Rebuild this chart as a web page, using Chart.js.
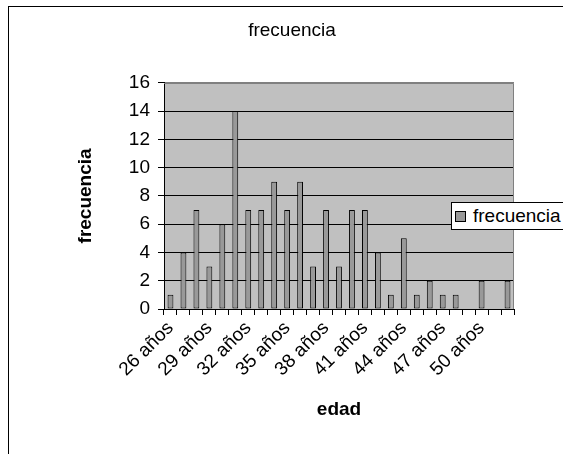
<!DOCTYPE html>
<html>
<head>
<meta charset="utf-8">
<script src="https://cdn.jsdelivr.net/npm/chart.js@4/dist/chart.umd.min.js"></script>
<style>
  html, body { margin: 0; padding: 0; background: #fff; overflow: hidden; width: 563px; height: 454px; }
  #wrap { position: relative; width: 563px; height: 454px; overflow: hidden; }
  #frame { position: absolute; left: 8px; top: 6px; width: 700px; height: 600px; border-left: 1px solid #000; border-top: 1px solid #000; box-sizing: border-box; }
  canvas { position: absolute; left: 0; top: 0; }
  #legend { position: absolute; left: 451px; top: 202px; width: 130px; height: 28px; box-sizing: border-box; border: 1px solid #000; background: #fff;
            font-family: "Liberation Sans", Arial, sans-serif; font-size: 19px; line-height: 26px; white-space: nowrap; }
  #legend .sw { display: inline-block; width: 9px; height: 9px; border: 1px solid #000; background: #999999; margin-left: 3px; margin-right: 7px; vertical-align: 0px; }
</style>
</head>
<body>
<div id="wrap">
  <div id="frame"></div>
  <canvas id="c" width="563" height="454"></canvas>
  <div id="legend"><span class="sw"></span>frecuencia</div>
</div>
<script>
const categories = ["26 años","27 años","28 años","29 años","30 años","31 años","32 años","33 años","34 años","35 años",
  "36 años","37 años","38 años","39 años","40 años","41 años","42 años","43 años","44 años","45 años",
  "46 años","47 años","48 años","49 años","50 años","51 años","52 años"];
const frecuencia = [1,4,7,3,6,14,7,7,9,7,9,3,7,3,7,7,4,1,5,1,2,1,1,0,2,0,2];
const seriesName = "frecuencia";
const chartTitle = "frecuencia";
const xTitle = "edad";
const yTitle = "frecuencia";
const yTicks = [0,2,4,6,8,10,12,14,16];

const FONT = '"Liberation Sans", Arial, sans-serif';
const FS = 19;

const plotBg = {
  id: 'plotBg',
  beforeDraw(chart) {
    const {ctx, chartArea: a} = chart;
    ctx.save();
    ctx.fillStyle = '#C0C0C0';
    ctx.fillRect(a.left, a.top, a.right - a.left, a.bottom - a.top);
    ctx.restore();
  },
  afterDraw(chart) {
    const {ctx, chartArea: a} = chart;
    ctx.save();
    ctx.strokeStyle = '#808080';
    ctx.lineWidth = 1;
    ctx.beginPath();
    ctx.moveTo(a.left, Math.round(a.top) + 0.5);
    ctx.lineTo(Math.round(a.right) - 0.5, Math.round(a.top) + 0.5);
    ctx.lineTo(Math.round(a.right) - 0.5, a.bottom);
    ctx.stroke();
    ctx.restore();
  }
};

new Chart(document.getElementById('c'), {
  type: 'bar',
  data: {
    labels: categories,
    datasets: [{
      label: seriesName,
      data: frecuencia,
      backgroundColor: '#999999',
      borderColor: '#000000',
      borderWidth: 1,
      borderSkipped: false,
      barPercentage: 0.45,
      categoryPercentage: 1.0
    }]
  },
  options: {
    responsive: false,
    animation: false,
    devicePixelRatio: 1,
    layout: { padding: { left: 70, right: 49, top: 0, bottom: 29 } },
    plugins: {
      legend: { display: false },
      tooltip: { enabled: false },
      title: {
        display: true,
        text: chartTitle,
        color: '#000',
        font: { family: FONT, size: FS, weight: 'normal' },
        padding: { top: 19, bottom: 41 }
      }
    },
    scales: {
      x: {
        offset: true,
        grid: { display: true, drawOnChartArea: false, drawTicks: true, tickLength: 6, color: '#000', tickColor: '#000', offset: true },
        border: { display: true, color: '#000', width: 1 },
        ticks: {
          autoSkip: false,
          minRotation: 45,
          maxRotation: 45,
          padding: 2,
          color: '#000',
          font: { family: FONT, size: FS },
          callback: function(v, i) { return i % 3 === 0 ? categories[i] : ''; }
        },
        title: { display: true, text: xTitle, color: '#000', font: { family: FONT, size: FS, weight: 'bold' }, padding: { top: 4, bottom: 4 } },
        afterFit(scale) { scale.height = 116; }
      },
      y: {
        min: 0,
        max: 16,
        afterBuildTicks(scale) { scale.ticks = yTicks.map(v => ({ value: v })); },
        grid: {
          drawTicks: true, tickLength: 6, tickColor: '#000',
          color: (c) => (c.tick && c.tick.value === 16) ? '#808080' : '#000'
        },
        border: { display: true, color: '#000', width: 1 },
        ticks: { padding: 8, color: '#000', font: { family: FONT, size: FS } },
        title: { display: true, text: yTitle, color: '#000', font: { family: FONT, size: FS, weight: 'bold' }, padding: { top: 4, bottom: 4 } },
        afterFit(scale) { scale.width = 94; }
      }
    }
  },
  plugins: [plotBg]
});
</script>
</body>
</html>
